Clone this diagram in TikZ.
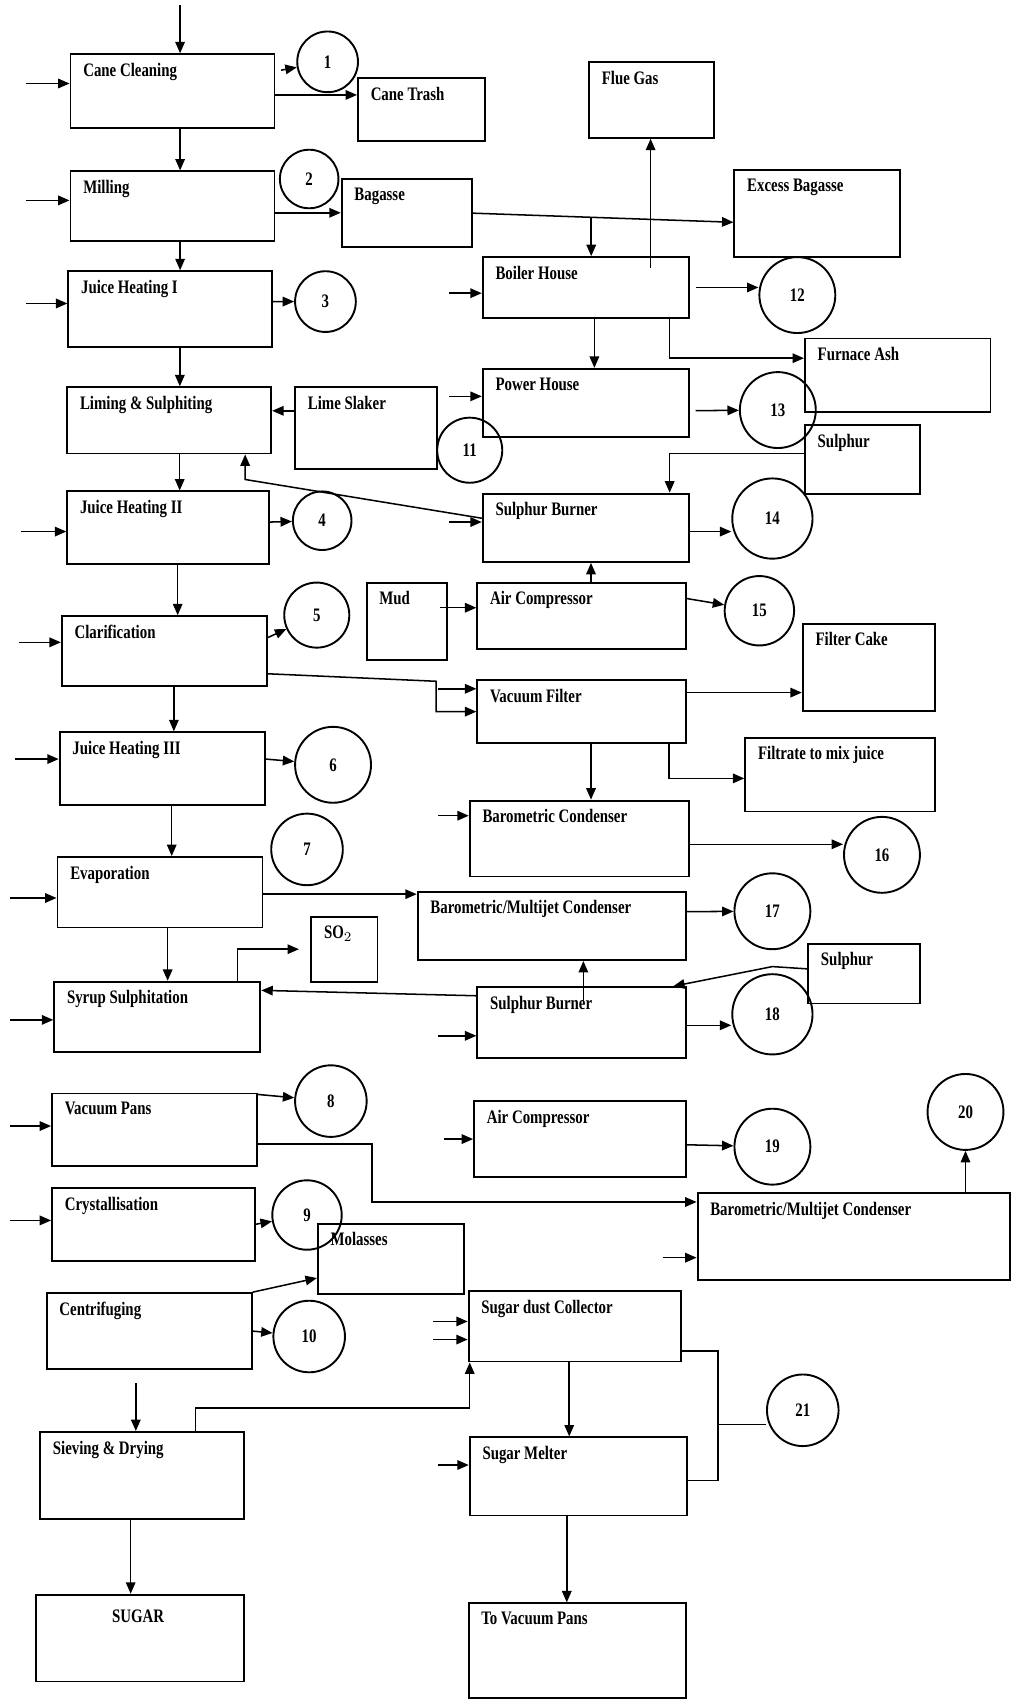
\documentclass[tikz,border=0pt]{standalone}
\usepackage{fontspec}
\setmainfont{Liberation Serif}[FakeStretch=0.78]
\usetikzlibrary{arrows.meta,fit}

\begin{document}
\begin{tikzpicture}[
    x=0.02cm, y=-0.02cm,
    >={Triangle[length=6pt,width=5pt]},
    box/.style={draw, line width=1pt, inner sep=0pt},
    lbl/.style={anchor=north west, inner sep=0pt, xshift=7pt, yshift=-5pt, font=\fontsize{10}{12}\selectfont\bfseries},
    stage/.style={draw, circle, line width=1pt, inner sep=0pt, font=\fontsize{10}{12}\selectfont\bfseries},
    flow/.style={->, line width=0.8pt},
    inflow/.style={<-, line width=0.8pt},
    link/.style={line width=0.8pt}
  ]
  \useasboundingbox (0,0) rectangle (933,1568);

  % Process line (left column)
  \node[box, fit={(65,50) (253,118)}, label={[lbl]north west:Cane Cleaning}] (cc) {};
  \node[box, fit={(330,72) (447,130)}, label={[lbl]north west:Cane Trash}] (trash) {};
  \node[box, fit={(65,158) (253,222)}, label={[lbl]north west:Milling}] (mill) {};
  \node[box, fit={(315,165) (435,228)}, label={[lbl]north west:Bagasse}] (bag) {};
  \node[box, fit={(63,250) (251,320)}, label={[lbl]north west:Juice Heating I}] (jh1) {};
  \node[box, fit={(62,357) (250,418)}, label={[lbl]north west:Liming \& Sulphiting}] (lim) {};
  \node[box, fit={(272,357) (403,432)}, label={[lbl]north west:Lime Slaker}] (slaker) {};
  \node[box, fit={(62,453) (248,520)}, label={[lbl]north west:Juice Heating II}] (jh2) {};
  \node[box, fit={(57,568) (246,632)}, label={[lbl]north west:Clarification}] (clar) {};
  \node[box, fit={(338,537) (412,608)}, label={[lbl]north west:Mud}] (mud) {};
  \node[box, fit={(55,675) (244,742)}, label={[lbl]north west:Juice Heating III}] (jh3) {};
  \node[box, fit={(53,790) (242,855)}, label={[lbl]north west:Evaporation}] (evap) {};
  \node[box, fit={(287,845) (348,905)}, label={[lbl]north west:SO$_2$}] (so2) {};
  \node[box, fit={(50,905) (240,970)}, label={[lbl]north west:Syrup Sulphitation}] (syrup) {};
  \node[box, fit={(48,1008) (237,1075)}, label={[lbl]north west:Vacuum Pans}] (vpans) {};
  \node[box, fit={(48,1095) (235,1162)}, label={[lbl]north west:Crystallisation}] (cryst) {};
  \node[box, fit={(293,1128) (428,1193)}, label={[lbl]north west:Molasses}] (molas) {};
  \node[box, fit={(43,1192) (232,1262)}, label={[lbl]north west:Centrifuging}] (centri) {};
  \node[box, fit={(37,1320) (225,1400)}, label={[lbl]north west:Sieving \& Drying}] (sieve) {};
  \node[box, fit={(33,1470) (225,1550)}, label={[anchor=north, inner sep=0pt, xshift=-1pt, yshift=-8pt, font=\fontsize{10}{12}\selectfont\bfseries]north:SUGAR}] (sugar) {};

  % Utilities (right column)
  \node[box, fit={(543,57) (658,127)}, label={[lbl]north west:Flue Gas}] (flue) {};
  \node[box, fit={(677,157) (830,237)}, label={[lbl]north west:Excess Bagasse}] (excess) {};
  \node[box, fit={(445,237) (635,293)}, label={[lbl]north west:Boiler House}] (boiler) {};
  \node[box, fit={(742,312) (913,380)}, label={[lbl]north west:Furnace Ash}] (ash) {};
  \node[box, fit={(445,340) (635,403)}, label={[lbl]north west:Power House}] (power) {};
  \node[box, fit={(742,392) (848,455)}, label={[lbl]north west:Sulphur}] (sulph1) {};
  \node[box, fit={(445,455) (635,518)}, label={[lbl]north west:Sulphur Burner}] (sburn1) {};
  \node[box, fit={(440,537) (632,598)}, label={[lbl]north west:Air Compressor}] (aircomp1) {};
  \node[box, fit={(740,575) (862,655)}, label={[lbl]north west:Filter Cake}] (cake) {};
  \node[box, fit={(440,627) (632,685)}, label={[lbl]north west:Vacuum Filter}] (vfilt) {};
  \node[box, fit={(687,680) (862,748)}, label={[lbl]north west:Filtrate to mix juice}] (filtrate) {};
  \node[box, fit={(433,738) (635,808)}, label={[lbl]north west:Barometric Condenser}] (bcond) {};
  \node[box, fit={(385,822) (632,885)}, label={[lbl]north west:Barometric/Multijet Condenser}] (mcond1) {};
  \node[box, fit={(745,870) (848,925)}, label={[lbl]north west:Sulphur}] (sulph2) {};
  \node[box, fit={(440,910) (632,975)}, label={[lbl]north west:Sulphur Burner}] (sburn2) {};
  \node[box, fit={(437,1015) (632,1085)}, label={[lbl]north west:Air Compressor}] (aircomp2) {};
  \node[box, fit={(643,1100) (931,1180)}, label={[lbl]north west:Barometric/Multijet Condenser}] (mcond2) {};
  \node[box, fit={(432,1190) (628,1255)}, label={[lbl]north west:Sugar dust Collector}] (dust) {};
  \node[box, fit={(433,1325) (633,1397)}, label={[lbl]north west:Sugar Melter}] (melter) {};
  \node[box, fit={(432,1478) (632,1565)}, label={[lbl]north west:To Vacuum Pans}] (tovp) {};

  % Numbered points
  \node[stage, minimum size=1.12cm] (c1) at (302,57) {1};
  \node[stage, minimum size=1.08cm] (c2) at (285,165) {2};
  \node[stage, minimum size=1.12cm] (c3) at (300,278) {3};
  \node[stage, minimum size=1.08cm] (c4) at (297,480) {4};
  \node[stage, minimum size=1.2cm] (c5) at (292,567) {5};
  \node[stage, minimum size=1.4cm] (c6) at (307,705) {6};
  \node[stage, minimum size=1.32cm] (c7) at (283,783) {7};
  \node[stage, minimum size=1.32cm] (c8) at (305,1015) {8};
  \node[stage, minimum size=1.28cm] (c9) at (283,1120) {9};
  \node[stage, minimum size=1.32cm] (c10) at (285,1232) {10};
  \node[stage, minimum size=1.2cm] (c11) at (433,415) {11};
  \node[stage, minimum size=1.4cm] (c12) at (735,272) {12};
  \node[stage, minimum size=1.4cm] (c13) at (717,378) {13};
  \node[stage, minimum size=1.48cm] (c14) at (712,478) {14};
  \node[stage, minimum size=1.28cm] (c15) at (700,563) {15};
  \node[stage, minimum size=1.4cm] (c16) at (813,788) {16};
  \node[stage, minimum size=1.4cm] (c17) at (712,840) {17};
  \node[stage, minimum size=1.48cm] (c18) at (712,935) {18};
  \node[stage, minimum size=1.4cm] (c19) at (712,1057) {19};
  \node[stage, minimum size=1.4cm] (c20) at (890,1025) {20};
  \node[stage, minimum size=1.32cm] (c21) at (740,1300) {21};

  % Bend points
  \coordinate (feed) at (166,5);
  \coordinate (bend1) at (226,442);
  \coordinate (bend2) at (402,628);
  \coordinate (bend3) at (343,1108);
  \coordinate (bend4) at (433,1298);
  \coordinate (bend5) at (712,891);
  \coordinate (tap) at (545,200);
  \coordinate (br) at (662,1313);

  % Feed arrows
  \foreach \n/\s/\l in {cc/4pt/40, mill/3pt/40, jh1/3pt/38, jh2/-2pt/42, clar/4.5pt/39,
      jh3/5pt/40, evap/-3pt/43, syrup/-1.5pt/40, vpans/2pt/38, cryst/2pt/38,
      boiler/-3pt/30, power/3.5pt/30, sburn1/3pt/30, vfilt/12pt/35, bcond/12pt/28,
      sburn2/-7pt/35, aircomp2/0pt/27, mcond2/-11pt/31, dust/2.5pt/32, dust/-7pt/32,
      melter/6pt/28}
    \draw[inflow] ([yshift=\s]\n.west) -- ++(-\l,0);

  % Main process line
  \draw[flow] (feed) -- (feed |- cc.north);
  \draw[flow] ([xshift=4pt]cc.south) coordinate (p) -- (p |- mill.north);
  \draw[flow] ([xshift=4pt]mill.south) coordinate (p) -- (p |- jh1.north);
  \draw[flow] ([xshift=5pt]jh1.south) coordinate (p) -- (p |- lim.north);
  \draw[flow] ([xshift=5.5pt]lim.south) coordinate (p) -- (p |- jh2.north);
  \draw[flow] ([xshift=5pt]jh2.south) coordinate (p) -- (p |- clar.north);
  \draw[flow] ([xshift=5pt]clar.south) coordinate (p) -- (p |- jh3.north);
  \draw[flow] ([xshift=5pt]jh3.south) coordinate (p) -- (p |- evap.north);
  \draw[flow] ([xshift=4pt]evap.south) coordinate (p) -- (p |- syrup.north);
  \draw[flow] ([xshift=-7pt,yshift=-7pt]centri.south) coordinate (p) -- (p |- sieve.north);
  \draw[flow] ([xshift=-6pt]sieve.south) coordinate (p) -- (p |- sugar.north);

  % Side streams
  \draw[flow] ([xshift=3pt,yshift=11pt]cc.east) -- (c1);
  \draw[flow] ([yshift=-2pt]cc.east) coordinate (p) -- (p -| trash.west);
  \draw[flow] ([yshift=-3.5pt]mill.east) coordinate (p) -- (p -| bag.west);
  \draw[flow] ([yshift=4pt]jh1.east) -- (c3);
  \draw[flow] ([yshift=9pt]slaker.west) coordinate (p) -- (p -| lim.east);
  \draw[flow] ([yshift=5pt]sburn1.west) -- (bend1) -- (bend1 |- lim.south);
  \draw[flow] ([yshift=3pt]jh2.east) -- (c4);
  \draw[flow] ([yshift=7pt]clar.east) -- (c5);
  \draw[flow] ([yshift=-12pt]clar.east) -- (bend2) |- (vfilt.west);
  \draw[flow] ([yshift=7pt,xshift=-4pt]mud.east) coordinate (p) -- (p -| aircomp1.west);
  \draw[flow] ([yshift=5pt]jh3.east) -- (c6);
  \draw[flow] ([yshift=-1pt]evap.east) coordinate (p) -- (p -| mcond1.west);
  \draw[flow, shorten >=6pt] ([xshift=42pt]syrup.north) |- (so2.west);
  \draw[flow] ([yshift=14pt]sburn2.west) -- ([yshift=14pt]syrup.east);
  \draw[flow] ([yshift=-1pt]vpans.north east) -- (c8);
  \draw[flow] ([yshift=-7.5pt]vpans.east) -| (bend3) -- (bend3 -| mcond2.west);
  \draw[flow] (cryst.east) -- (c9);
  \draw[flow] (centri.north east) -- ([yshift=-10pt]molas.west);
  \draw[flow] (centri.east) -- (c10);
  \draw[flow] ([xshift=28pt]sieve.north) |- (bend4) -- (bend4 |- dust.south);
  \draw[flow] ([xshift=-3pt]dust.south) coordinate (p) -- (p |- melter.north);
  \draw[link] ([yshift=-13pt]dust.east) -| (br) |- ([yshift=-2pt]melter.east);
  \draw[link] (br) -- (br -| c21.west);
  \draw[flow] ([xshift=-6pt]melter.south) coordinate (p) -- (p |- tovp.north);

  % Boiler and utilities
  \draw[flow] (bag.east) -- ([yshift=-4.5pt]excess.west);
  \draw[flow] (tap) -- (tap |- boiler.north);
  \draw[flow] ([xshift=34pt,yshift=-6pt]boiler.north) coordinate (p) -- (p |- flue.south);
  \draw[flow] ([xshift=3pt]boiler.east) coordinate (p) -- (p -| c12.west);
  \draw[flow] ([xshift=44pt]boiler.south) |- ([yshift=9pt]ash.west);
  \draw[flow] ([xshift=4.5pt]boiler.south) coordinate (p) -- (p |- power.north);
  \draw[flow] ([xshift=3pt,yshift=-4pt]power.east) -- (c13);
  \draw[flow] ([yshift=3pt]sulph1.west) -| ([xshift=44pt]sburn1.north);
  \draw[flow] ([yshift=-2pt]sburn1.east) coordinate (p) -- (p -| c14.west);
  \draw[flow] ([xshift=5pt]aircomp1.north) coordinate (p) -- (p |- sburn1.south);
  \draw[flow] ([yshift=9pt]aircomp1.east) -- (c15);
  \draw[flow] ([yshift=10pt]vfilt.east) coordinate (p) -- (p -| cake.west);
  \draw[flow] ([xshift=5pt]vfilt.south) coordinate (p) -- (p |- bcond.north);
  \draw[flow] ([xshift=46pt]vfilt.south) |- ([yshift=-2pt]filtrate.west);
  \draw[flow] ([yshift=-3pt]bcond.east) coordinate (p) -- (p -| c16.west);
  \draw[flow] ([yshift=7.5pt]mcond1.east) -- (c17);
  \draw[flow] ([yshift=2.5pt]sulph2.west) -- (bend5) -- ([xshift=-7pt]sburn2.north east);
  \draw[flow] ([xshift=1pt,yshift=-8pt]sburn2.north) coordinate (p) -- (p |- mcond1.south);
  \draw[flow] ([yshift=-1.5pt]sburn2.east) coordinate (p) -- (p -| c18.west);
  \draw[flow] ([yshift=-3pt]aircomp2.east) -- (c19);
  \draw[flow] (mcond2.north -| c20) -- (c20.south);
\end{tikzpicture}
\end{document}
